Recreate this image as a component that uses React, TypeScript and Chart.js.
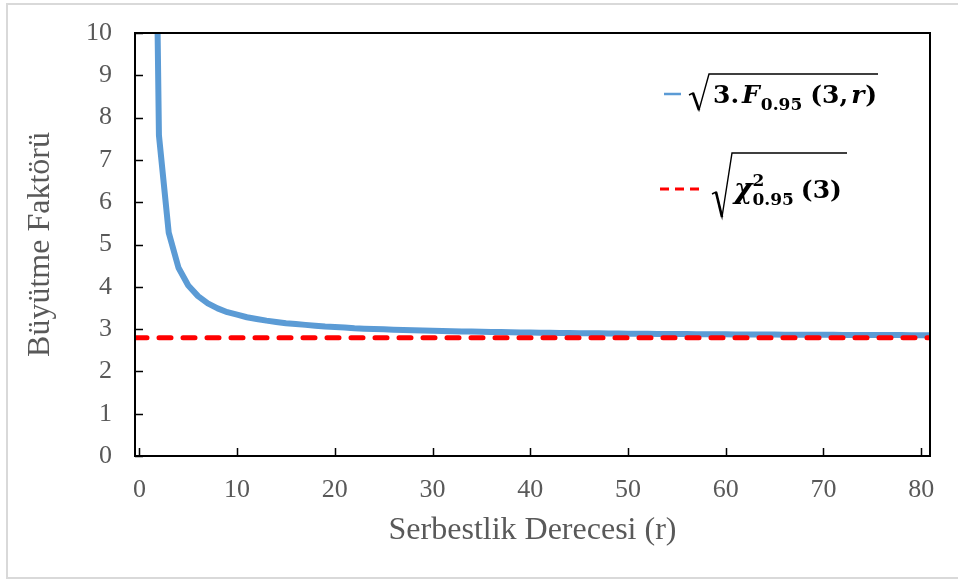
import React, { useEffect, useRef } from "react";
import { Chart, registerables } from "chart.js";

Chart.register(...registerables);

// Degrees of freedom r and growth factor sqrt(3·F0.95(3,r))
const degreesOfFreedom = [
  1, 2, 3, 4, 5, 6, 7, 8, 9, 10, 11, 12, 13, 14, 15, 16, 17, 18, 19, 20,
  21, 22, 23, 24, 25, 26, 27, 28, 29, 30, 31, 32, 33, 34, 35, 36, 37, 38, 39, 40,
  41, 42, 43, 44, 45, 46, 47, 48, 49, 50, 51, 52, 53, 54, 55, 56, 57, 58, 59, 60,
  61, 62, 63, 64, 65, 66, 67, 68, 69, 70, 71, 72, 73, 74, 75, 76, 77, 78, 79, 80, 81,
];
const growthFactor = [
  25.44, 7.58, 5.28, 4.45, 4.03, 3.78, 3.61, 3.49, 3.4, 3.34, 3.28, 3.24, 3.2, 3.17, 3.14, 3.12, 3.1, 3.08, 3.06, 3.05,
  3.04, 3.02, 3.01, 3.0, 2.995, 2.987, 2.98, 2.973, 2.967, 2.961, 2.955, 2.95, 2.945, 2.941, 2.936, 2.932, 2.929, 2.925, 2.921, 2.918,
  2.915, 2.912, 2.91, 2.907, 2.904, 2.902, 2.899, 2.897, 2.895, 2.893, 2.891, 2.889, 2.887, 2.886, 2.884, 2.882, 2.881, 2.879, 2.878, 2.876,
  2.875, 2.874, 2.873, 2.871, 2.87, 2.869, 2.868, 2.867, 2.866, 2.865, 2.864, 2.863, 2.862, 2.861, 2.86, 2.859, 2.858, 2.858, 2.857, 2.856, 2.855,
];
// sqrt(chi-square 0.95 (3))
const chiX = [-0.45, 80.9];
const chiY = [2.795, 2.795];

const xRange = [-0.45, 80.9];
const xTicks = [0, 10, 20, 30, 40, 50, 60, 70, 80];
const yTicks = [0, 1, 2, 3, 4, 5, 6, 7, 8, 9, 10];

const xTitle = "Serbestlik Derecesi (r)";
const yTitle = "Büyütme Faktörü";

const GRAY = "#595959";
const SERIF = "'Liberation Serif', 'Times New Roman', serif";
const MATH = "'DejaVu Serif', serif";

function drawPieces(
  ctx: CanvasRenderingContext2D,
  x: number,
  pieces: { t: string; font: string; y: number; gap?: number; keep?: boolean }[]
) {
  let cx = x;
  for (const p of pieces) {
    ctx.font = p.font;
    ctx.fillText(p.t, cx, p.y);
    const w = ctx.measureText(p.t).width;
    if (!p.keep) cx += w + (p.gap ?? 0);
  }
}

const framePlugin = {
  id: "frameAndLegend",
  afterDatasetsDraw(chart: any) {
    const { ctx, chartArea, scales } = chart;
    const { left, right, top, bottom } = chartArea;
    ctx.save();
    // inside tick marks
    ctx.strokeStyle = "#000";
    ctx.lineWidth = 1.5;
    ctx.beginPath();
    for (const v of yTicks) {
      const y = Math.round(scales.y.getPixelForValue(v)) + 0.5;
      ctx.moveTo(left, y);
      ctx.lineTo(left + 8, y);
    }
    for (const v of xTicks) {
      const x = Math.round(scales.x.getPixelForValue(v)) + 0.5;
      ctx.moveTo(x, bottom);
      ctx.lineTo(x, bottom - 8);
    }
    ctx.stroke();
    // plot frame
    ctx.lineWidth = 2;
    ctx.strokeRect(left, top, right - left, bottom - top);

    // legend swatches
    ctx.strokeStyle = "#5b9bd5";
    ctx.lineWidth = 2.5;
    ctx.beginPath();
    ctx.moveTo(664, 94);
    ctx.lineTo(681, 94);
    ctx.stroke();
    ctx.strokeStyle = "#ff0000";
    ctx.lineWidth = 3;
    ctx.setLineDash([9, 6]);
    ctx.beginPath();
    ctx.moveTo(660, 189);
    ctx.lineTo(700, 189);
    ctx.stroke();
    ctx.setLineDash([]);

    // radicals
    ctx.strokeStyle = "#000";
    ctx.lineJoin = "miter";
    ctx.lineWidth = 1.4;
    ctx.beginPath();
    ctx.moveTo(689, 95);
    ctx.lineTo(693, 93);
    ctx.lineTo(699, 110);
    ctx.lineTo(709, 74);
    ctx.lineTo(878, 74);
    ctx.stroke();
    ctx.lineWidth = 2.6;
    ctx.beginPath();
    ctx.moveTo(693, 93);
    ctx.lineTo(699, 110);
    ctx.stroke();

    ctx.lineWidth = 1.4;
    ctx.beginPath();
    ctx.moveTo(712, 194);
    ctx.lineTo(716, 192);
    ctx.lineTo(722, 217);
    ctx.lineTo(732, 153);
    ctx.lineTo(847, 153);
    ctx.stroke();
    ctx.lineWidth = 2.6;
    ctx.beginPath();
    ctx.moveTo(716, 192);
    ctx.lineTo(722, 217);
    ctx.stroke();

    ctx.fillStyle = "#000";
    ctx.textBaseline = "alphabetic";
    ctx.textAlign = "left";
    const big = `bold 25px ${MATH}`;
    const bigI = `italic bold 25px ${MATH}`;
    const chiF = `italic bold 28px ${MATH}`;
    const small = `bold 17px ${MATH}`;
    drawPieces(ctx, 713, [
      { t: "3.", font: big, y: 103, gap: 3 },
      { t: "F", font: bigI, y: 103, gap: 1 },
      { t: "0.95", font: small, y: 110, gap: 8 },
      { t: "(3,", font: big, y: 103, gap: 3 },
      { t: "r", font: bigI, y: 103, gap: 1 },
      { t: ")", font: big, y: 103 },
    ]);
    drawPieces(ctx, 734, [
      { t: "χ", font: chiF, y: 198, gap: 0 },
      { t: "2", font: small, y: 186, keep: true },
      { t: "0.95", font: small, y: 205, gap: 7 },
      { t: "(3)", font: big, y: 198 },
    ]);
    ctx.restore();
  },
};

export default function App() {
  const ref = useRef<HTMLCanvasElement>(null);
  useEffect(() => {
    const chart = new Chart(ref.current as HTMLCanvasElement, {
      type: "line",
      data: {
        datasets: [
          {
            label: "chi",
            data: chiX.map((x, i) => ({ x, y: chiY[i] })),
            borderColor: "#ff0000",
            borderWidth: 5,
            borderDash: [12, 12],
            borderCapStyle: "round",
            pointRadius: 0,
            order: 0,
          },
          {
            label: "F",
            data: degreesOfFreedom.map((x, i) => ({ x, y: growthFactor[i] })),
            borderColor: "#5b9bd5",
            borderWidth: 6,
            borderCapStyle: "round",
            borderJoinStyle: "round",
            pointRadius: 0,
            tension: 0,
            order: 1,
          },
        ],
      },
      options: {
        responsive: false,
        animation: false,
        events: [],
        layout: { padding: { top: 33, right: 28, left: 0, bottom: 0 } },
        plugins: { legend: { display: false }, tooltip: { enabled: false } },
        scales: {
          x: {
            type: "linear",
            min: xRange[0],
            max: xRange[1],
            grid: { display: false, drawTicks: false },
            border: { display: false },
            afterBuildTicks: (s: any) => {
              s.ticks = xTicks.map((v) => ({ value: v }));
            },
            afterFit: (s: any) => {
              s.height = 125;
              s.paddingLeft = 0;
              s.paddingRight = 0;
            },
            ticks: {
              padding: 19,
              color: GRAY,
              font: { family: SERIF, size: 26 },
              maxRotation: 0,
              autoSkip: false,
            },
            title: {
              display: true,
              text: xTitle,
              color: GRAY,
              font: { family: SERIF, size: 32 },
              padding: { top: 0, bottom: 31 },
            },
          },
          y: {
            type: "linear",
            min: 0,
            max: 10,
            grid: { display: false, drawTicks: false },
            border: { display: false },
            afterBuildTicks: (s: any) => {
              s.ticks = yTicks.map((v) => ({ value: v }));
            },
            afterFit: (s: any) => {
              s.width = 135;
              s.paddingTop = 0;
              s.paddingBottom = 0;
            },
            ticks: {
              padding: 23,
              color: GRAY,
              font: { family: SERIF, size: 26 },
              autoSkip: false,
            },
            title: {
              display: true,
              text: yTitle,
              color: GRAY,
              font: { family: SERIF, size: 32 },
              padding: { top: 21, bottom: 0 },
            },
          },
        },
      },
      plugins: [framePlugin],
    } as any);
    return () => chart.destroy();
  }, []);
  return (
    <div style={{ position: "fixed", left: 0, top: 0, width: 958, height: 581, background: "#fff" }}>
      <div
        style={{
          position: "absolute",
          left: 6,
          top: 3,
          width: 960,
          height: 576,
          border: "2px solid #d9d9d9",
          boxSizing: "border-box",
        }}
      />
      <canvas
        ref={ref}
        width={958}
        height={581}
        style={{ position: "absolute", left: 0, top: 0, width: 958, height: 581 }}
      />
    </div>
  );
}
